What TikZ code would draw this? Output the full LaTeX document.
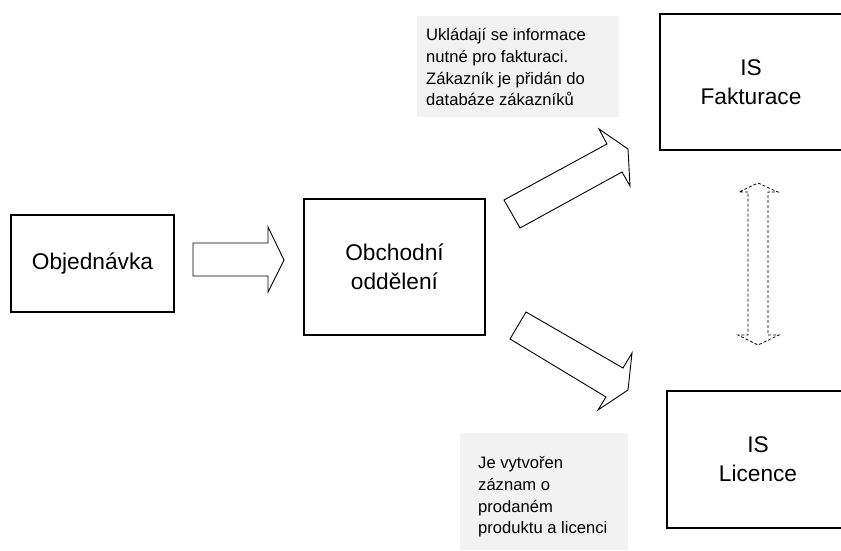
\documentclass[tikz,border=0pt]{standalone}
\usepackage{fontspec}
\setmainfont{Liberation Sans}
\definecolor{notegray}{HTML}{F2F2F2}
\tikzset{
  unitbox/.style={draw, line width=2pt, inner sep=0pt, align=center,
    font=\fontsize{22.7}{29}\selectfont},
  notetext/.style={anchor=north west, inner sep=0pt, align=left,
    font=\fontsize{16.6}{21.7}\selectfont},
  blockarrow/.style={draw, line width=0.9pt, line join=miter, fill=white},
  dualarrow/.style={draw, line width=0.8pt, dash pattern=on 3pt off 2pt}
}
\begin{document}
\begin{tikzpicture}[x=1pt, y=-1pt]
  \useasboundingbox (0,0) rectangle (841,551);
  \clip (0,0) rectangle (841,551);

  % annotation backgrounds
  \fill[notegray] (417,16) rectangle (619,117);
  \fill[notegray] (460,433) rectangle (628,550);

  % process boxes
  \node[unitbox, minimum width=163pt, minimum height=97pt] (obj) at (92.5,263.5) {Objednávka};
  \node[unitbox, minimum width=181pt, minimum height=136pt] (obch) at (394.5,267) {Obchodní\\oddělení};
  \node[unitbox, minimum width=182pt, minimum height=136pt] (fakt) at (751,82) {IS\\Fakturace};
  \node[unitbox, minimum width=182pt, minimum height=137pt] (lic) at (758,459) {IS\\Licence};

  % annotations
  \node[notetext] (notefakt) at (426,25.5) {\strut Ukládají se informace\\\strut nutné pro fakturaci.\\\strut Zákazník je přidán do\\\strut databáze zákazníků};
  \node[notetext] (notelic) at (478,453.5) {\strut Je vytvořen\\\strut záznam o\\\strut prodaném\\\strut produktu a licenci};

  % block arrows between the units
  \draw[blockarrow] (193,243) -- (268,243) -- (268,227) -- (284,260) -- (268,292) -- (268,276) -- (193,276) -- cycle;
  \draw[blockarrow] (504,200) -- (607,144) -- (599,129) -- (628,149) -- (630,186) -- (622,172) -- (520,228) -- cycle;
  \draw[blockarrow] (526,312) -- (623,368) -- (632,353) -- (628,390) -- (598,410) -- (606,397) -- (510,339) -- cycle;

  % dashed two-way link between the information systems
  \draw[dualarrow] (748,192) -- (739,192) -- (758,183) -- (778,192) -- (768,192) -- (768,335) -- (779,335) -- (758,345) -- (738,335) -- (748,335) -- cycle;
\end{tikzpicture}
\end{document}
